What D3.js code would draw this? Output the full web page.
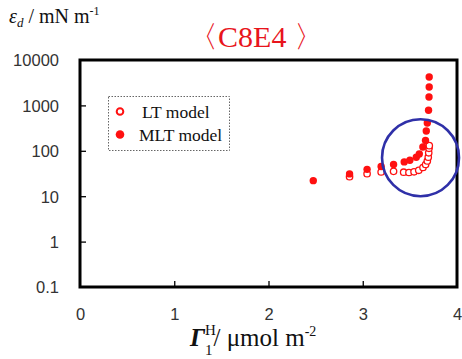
<!DOCTYPE html>
<html><head><meta charset="utf-8">
<script src="https://cdn.jsdelivr.net/npm/d3@7"></script>
<style>body{margin:0;background:#fff}svg{display:block}</style>
</head><body>
<svg id="c" width="462" height="359"></svg>
<script>
const xTicks = [0, 1, 2, 3, 4];
const yTicks = [0.1, 1, 10, 100, 1000, 10000];
const yTickLabels = ["0.1", "1", "10", "100", "1000", "10000"];
const mltX = [2.475, 2.86, 3.046, 3.195, 3.327, 3.44, 3.50, 3.568, 3.60, 3.638, 3.666, 3.674, 3.685, 3.698, 3.703, 3.705, 3.705];
const mltY = [22, 31, 39, 45, 50, 57, 62, 72, 85, 121, 169, 273, 410, 780, 1531, 2543, 4227];
const ltX = [2.86, 3.046, 3.195, 3.327, 3.434, 3.49, 3.544, 3.594, 3.639, 3.667, 3.685, 3.695, 3.70, 3.703, 3.706];
const ltY = [26.9, 31.3, 34.1, 35.3, 33.8, 33.3, 34.5, 37.2, 42.9, 49.9, 59.6, 72.3, 90.4, 113.5, 130];
const seriesNames = ["LT model", "MLT model"];
const highlight = {x: 3.613, y: 70.5};

const svg = d3.select("#c");
const L = 80, R = 457, T = 60, B = 287;
const x = d3.scaleLinear().domain([0, 4]).range([L, R]);
const y = d3.scaleLog().domain([0.1, 10000]).range([B, T]);
const red = "#ff1010";

// inner ticks
svg.append("g").attr("transform", `translate(0,${B})`)
  .call(d3.axisTop(x).tickValues(xTicks.slice(1, -1)).tickSize(6).tickFormat(""))
  .call(g => { g.select(".domain").remove(); g.selectAll("line").attr("stroke", "#000").attr("stroke-width", 1.3); });
svg.append("g").attr("transform", `translate(${L},0)`)
  .call(d3.axisRight(y).tickValues(yTicks.slice(1, -1)).tickSize(6).tickFormat(""))
  .call(g => { g.select(".domain").remove(); g.selectAll("line").attr("stroke", "#000").attr("stroke-width", 1.3); });

// frame
svg.append("rect").attr("x", L).attr("y", T).attr("width", R - L).attr("height", B - T)
  .attr("fill", "none").attr("stroke", "#000").attr("stroke-width", 3);

// tick labels
svg.append("g").attr("transform", `translate(${L - 18},0)`)
  .call(d3.axisLeft(y).tickValues(yTicks).tickSize(0).tickFormat((d, i) => yTickLabels[i]))
  .call(g => { g.select(".domain").remove(); g.selectAll("text").attr("font-family", "Liberation Sans, Arial, sans-serif").attr("font-size", 16.5).attr("fill", "#333").attr("dy", "0.36em"); });
svg.append("g").attr("transform", `translate(0,${B + 18})`)
  .call(d3.axisBottom(x).tickValues(xTicks).tickSize(0).tickFormat(d3.format("d")))
  .call(g => { g.select(".domain").remove(); g.selectAll("text").attr("font-family", "Liberation Sans, Arial, sans-serif").attr("font-size", 16.5).attr("fill", "#333").attr("dy", "0.71em"); });

// data
const mlt = mltX.map((v, i) => [v, mltY[i]]);
const lt = ltX.map((v, i) => [v, ltY[i]]);
svg.append("g").selectAll("circle").data(lt).join("circle")
  .attr("cx", d => x(d[0])).attr("cy", d => y(d[1])).attr("r", 3.2)
  .attr("fill", "#fff").attr("stroke", red).attr("stroke-width", 1.3);
svg.append("g").selectAll("circle").data(mlt).join("circle")
  .attr("cx", d => x(d[0])).attr("cy", d => y(d[1])).attr("r", 3.7)
  .attr("fill", red);

// highlight circle
svg.append("circle").attr("cx", x(highlight.x)).attr("cy", y(highlight.y)).attr("r", 38.5)
  .attr("fill", "none").attr("stroke", "#2f30a8").attr("stroke-width", 2.6);

// legend
svg.append("rect").attr("x", 108.5).attr("y", 96.5).attr("width", 121).attr("height", 54)
  .attr("fill", "#fff").attr("stroke", "#666").attr("stroke-width", 1).attr("stroke-dasharray", "1.5,1.5");
svg.append("circle").attr("cx", 120).attr("cy", 111.5).attr("r", 3.3).attr("fill", "#fff").attr("stroke", red).attr("stroke-width", 2);
svg.append("circle").attr("cx", 120).attr("cy", 134.5).attr("r", 4.3).attr("fill", red);
svg.append("text").attr("x", 142).attr("y", 117.5).text(seriesNames[0])
  .attr("font-family", "Liberation Serif, Times New Roman, serif").attr("font-size", 17.5).attr("fill", "#111");
svg.append("text").attr("x", 139).attr("y", 140.5).text(seriesNames[1])
  .attr("font-family", "Liberation Serif, Times New Roman, serif").attr("font-size", 17.5).attr("fill", "#111");

// title
svg.append("text").attr("x", 256).attr("y", 47).attr("text-anchor", "middle")
  .attr("font-family", "Liberation Serif, Times New Roman, serif").attr("font-size", 30).attr("fill", "#e8141c")
  .text("〈C8E4 〉");

// y label
const yl = svg.append("text").attr("x", 9).attr("y", 23)
  .attr("font-family", "Liberation Serif, Times New Roman, serif").attr("font-size", 20).attr("fill", "#111");
yl.append("tspan").attr("font-style", "italic").text("ε");
yl.append("tspan").attr("font-style", "italic").attr("font-size", 13).attr("dy", 4).text("d");
yl.append("tspan").attr("dy", -4).text(" / mN m");
yl.append("tspan").attr("font-size", 12).attr("dy", -8).text("-1");

// x label
const xl = svg.append("text").attr("x", 190).attr("y", 346)
  .attr("font-family", "Liberation Serif, Times New Roman, serif").attr("font-size", 25).attr("fill", "#111");
xl.append("tspan").attr("font-style", "italic").attr("font-weight", "bold").text("Γ");
xl.append("tspan").attr("font-size", 15).attr("dy", -11).text("H");
xl.append("tspan").attr("font-size", 15).attr("dy", 20).attr("dx", -11).text("1");
xl.append("tspan").attr("dy", -9).attr("dx", 1).text("/ μmol m");
xl.append("tspan").attr("font-size", 14).attr("dy", -10).text("-2");
</script>
</body></html>
